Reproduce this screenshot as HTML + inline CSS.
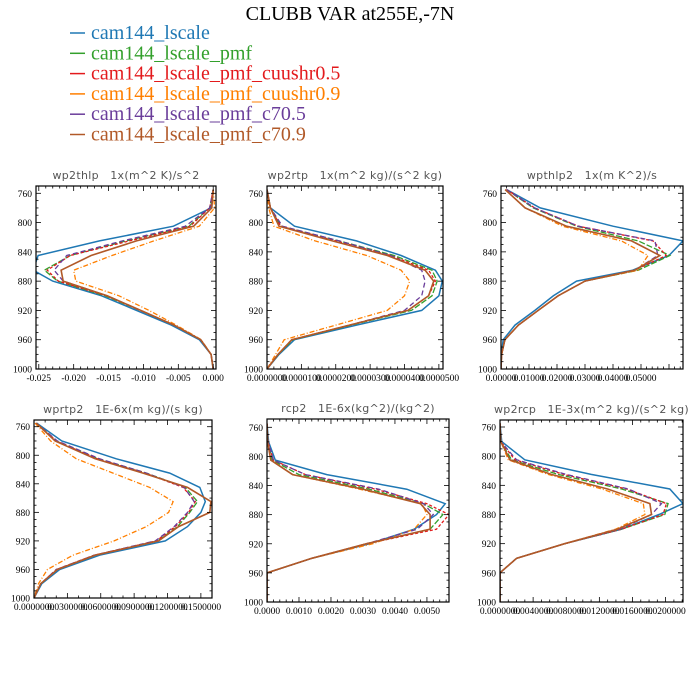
<!DOCTYPE html>
<html><head><meta charset="utf-8">
<style>
html,body{margin:0;padding:0;background:#fff;}
svg{display:block;}
.ttl{font-family:"Liberation Serif",serif;font-size:20px;fill:#000;}
.leg{font-family:"Liberation Serif",serif;font-size:20px;}
.pt{font-family:"DejaVu Sans","Liberation Sans",sans-serif;font-size:11px;fill:#555;white-space:pre;letter-spacing:0.3px;}
.tk{font-family:"Liberation Serif",serif;font-size:9.5px;fill:#000;}
</style></head>
<body>
<svg id="chart" width="700" height="700" viewBox="0 0 700 700" xmlns="http://www.w3.org/2000/svg">
<text class="ttl" x="350" y="20" text-anchor="middle">CLUBB VAR at255E,-7N</text>
<g id="legend"></g>
<g id="panels"></g>
</svg>
<script>
// Data (pressure levels in hPa)
const levels = [755,780,805,825,845,865,880,900,920,940,960,980,1000];
const seriesNames = ["cam144_lscale","cam144_lscale_pmf","cam144_lscale_pmf_cuushr0.5","cam144_lscale_pmf_cuushr0.9","cam144_lscale_pmf_c70.5","cam144_lscale_pmf_c70.9"];
const panelTitles = ["wp2thlp   1x(m^2 K)/s^2","wp2rtp   1x(m^2 kg)/(s^2 kg)","wpthlp2   1x(m K^2)/s","wprtp2   1E-6x(m kg)/(s kg)","rcp2   1E-6x(kg^2)/(kg^2)","wp2rcp   1E-3x(m^2 kg)/(s^2 kg)"];
const yTicks = [760,800,840,880,920,960,1000];

// wp2thlp
const wp2thlp_blue   = [0,-0.0003,-0.0057,-0.0163,-0.0251,-0.0258,-0.0230,-0.0160,-0.0110,-0.0060,-0.0020,-0.0003,0];
const wp2thlp_green  = [0,-0.0005,-0.0035,-0.0125,-0.0205,-0.0242,-0.0223,-0.0155,-0.0105,-0.0056,-0.0018,-0.0003,0];
const wp2thlp_red    = [0,-0.0005,-0.0033,-0.0120,-0.0205,-0.0238,-0.0222,-0.0153,-0.0104,-0.0056,-0.0018,-0.0003,0];
const wp2thlp_orange = [0,0.0002,-0.0020,-0.0085,-0.0145,-0.0200,-0.0197,-0.0135,-0.0092,-0.0053,-0.0017,-0.0003,0];
const wp2thlp_purple = [0,-0.0005,-0.0040,-0.0130,-0.0210,-0.0228,-0.0215,-0.0152,-0.0105,-0.0056,-0.0018,-0.0003,0];
const wp2thlp_brown  = [0,-0.0002,-0.0028,-0.0110,-0.0175,-0.0218,-0.0215,-0.0152,-0.0104,-0.0056,-0.0018,-0.0003,0];
const wp2thlp_ticks = [-0.025,-0.020,-0.015,-0.010,-0.005,0.000];
const wp2thlp_labels = ["-0.025","-0.020","-0.015","-0.010","-0.005","0.000"];

// wp2rtp
const wp2rtp_blue   = [0,0.000001,0.000008,0.000026,0.000039,0.000049,0.000051,0.000050,0.000045,0.000026,0.000008,0.0000035,0];
const wp2rtp_green  = [0,0.000001,0.000004,0.000021,0.000037,0.000048,0.0000495,0.000048,0.000042,0.0000245,0.0000075,0.0000033,0];
const wp2rtp_red    = [0,0.000001,0.000004,0.000020,0.000036,0.000047,0.000049,0.000047,0.000041,0.000024,0.0000072,0.0000032,0];
const wp2rtp_orange = [0,0.0000005,0.000002,0.000014,0.000029,0.000039,0.0000415,0.000040,0.000035,0.000020,0.000005,0.0000025,0];
const wp2rtp_purple = [0,0.000001,0.0000045,0.000021,0.000036,0.000045,0.000046,0.000045,0.000040,0.000024,0.0000072,0.0000032,0];
const wp2rtp_brown  = [0,0.000001,0.0000035,0.000019,0.000035,0.000046,0.0000485,0.000047,0.000041,0.000024,0.0000072,0.0000032,0];
const wp2rtp_ticks = [0,0.00001,0.00002,0.00003,0.00004,0.00005];
const wp2rtp_labels = ["0.0000000","0.0000100","0.0000200","0.0000300","0.0000400","0.0000500"];

// wpthlp2
const wpthlp2_blue   = [0.002,0.014,0.040,0.065,0.060,0.047,0.027,0.0187,0.0121,0.005,0.0008,0.0001,0];
const wpthlp2_green  = [0.002,0.0115,0.027,0.049,0.0603,0.049,0.030,0.0204,0.0133,0.0062,0.0014,0.0002,0];
const wpthlp2_red    = [0.002,0.012,0.0276,0.0543,0.059,0.0478,0.030,0.0204,0.0133,0.0062,0.0014,0.0002,0];
const wpthlp2_orange = [0.0015,0.0086,0.022,0.043,0.0525,0.049,0.030,0.0204,0.0133,0.0062,0.0014,0.0002,0];
const wpthlp2_purple = [0.002,0.012,0.0276,0.055,0.056,0.0478,0.030,0.0204,0.0133,0.0062,0.0014,0.0002,0];
const wpthlp2_brown  = [0.0015,0.0086,0.0234,0.0466,0.0567,0.0478,0.030,0.0204,0.0133,0.0062,0.0014,0.0002,0];
const wpthlp2_ticks = [0,0.01,0.02,0.03,0.04,0.05];
const wpthlp2_labels = ["0.00000","0.01000","0.02000","0.03000","0.04000","0.05000"];

// wprtp2
const wprtp2_blue   = [0.0024,0.025,0.074,0.122,0.149,0.154,0.150,0.138,0.118,0.059,0.023,0.007,0];
const wprtp2_green  = [0.002,0.020,0.058,0.101,0.136,0.147,0.140,0.129,0.111,0.055,0.021,0.006,0];
const wprtp2_red    = [0.002,0.020,0.057,0.100,0.134,0.145,0.139,0.127,0.110,0.054,0.020,0.006,0];
const wprtp2_orange = [0.001,0.015,0.038,0.071,0.104,0.125,0.121,0.101,0.072,0.035,0.012,0.004,0];
const wprtp2_purple = [0.002,0.021,0.059,0.101,0.135,0.144,0.138,0.126,0.109,0.054,0.020,0.006,0];
const wprtp2_brown  = [0.002,0.019,0.055,0.098,0.138,0.159,0.158,0.130,0.112,0.055,0.021,0.006,0];
const wprtp2_ticks = [0,0.03,0.06,0.09,0.12,0.15];
const wprtp2_labels = ["0.0000000","0.0300000","0.0600000","0.0900000","0.1200000","0.1500000"];

// rcp2
const rcp2_blue   = [0,0.00005,0.00026,0.00187,0.00437,0.00557,0.0053,0.0046,0.0032,0.0014,0,0,0];
const rcp2_green  = [0,0.00003,0.00016,0.0010,0.0032,0.0049,0.0055,0.0051,0.0031,0.0014,0,0,0];
const rcp2_red    = [0,0.00003,0.0002,0.0012,0.0034,0.0050,0.00569,0.0053,0.0031,0.0014,0,0,0];
const rcp2_orange = [0,0.00002,0.00012,0.0008,0.0029,0.00485,0.0050,0.0046,0.0033,0.0014,0,0,0];
const rcp2_purple = [0,0.00003,0.0002,0.0012,0.0035,0.0049,0.0052,0.0047,0.0031,0.0014,0,0,0];
const rcp2_brown  = [0,0.00002,0.00012,0.0008,0.0030,0.0048,0.0051,0.0051,0.0031,0.0014,0,0,0];
const rcp2_ticks = [0,0.001,0.002,0.003,0.004,0.005];
const rcp2_labels = ["0.0000","0.0010","0.0020","0.0030","0.0040","0.0050"];

// wp2rcp
const wp2rcp_blue   = [0,0.0002,0.0030,0.0110,0.0205,0.0221,0.0192,0.0147,0.0078,0.0020,0,0,0];
const wp2rcp_green  = [0,0.0001,0.0014,0.0070,0.0147,0.0203,0.0199,0.0147,0.0078,0.0020,0,0,0];
const wp2rcp_red    = [0,0.0001,0.0018,0.0077,0.0153,0.0201,0.0197,0.0147,0.0078,0.0020,0,0,0];
const wp2rcp_orange = [0,0.0001,0.0010,0.0058,0.0123,0.0173,0.0175,0.0140,0.0078,0.0020,0,0,0];
const wp2rcp_purple = [0,0.0001,0.0020,0.0080,0.0155,0.0195,0.0183,0.0145,0.0078,0.0020,0,0,0];
const wp2rcp_brown  = [0,0.0001,0.0012,0.0062,0.0130,0.0181,0.0183,0.0142,0.0078,0.0020,0,0,0];
const wp2rcp_ticks = [0,0.004,0.008,0.012,0.016,0.020];
const wp2rcp_labels = ["0.0000000","0.0040000","0.0080000","0.0120000","0.0160000","0.0200000"];

const colors = ["#1f78b4","#33a02c","#e31a1c","#ff7f00","#6a3d9a","#b15928"];
const dashes = ["","6,2","3,2","5,2,1,2","5,3",""];
const widths = [1.5,1.3,1.3,1.3,1.3,1.6];

const NS = "http://www.w3.org/2000/svg";
function mk(tag, attrs, parent){
  const e = document.createElementNS(NS, tag);
  for (const k in attrs) e.setAttribute(k, attrs[k]);
  parent.appendChild(e);
  return e;
}

// legend
const leg = document.getElementById("legend");
seriesNames.forEach((n,i)=>{
  const y = 33 + i*20.3;
  const ln = mk("line",{x1:70,x2:85,y1:y,y2:y,stroke:colors[i],"stroke-width":1.5},leg);
  
  
  const t = mk("text",{x:91,y:y+6,class:"leg",fill:colors[i]},leg);
  t.textContent = n;
  
  
});

const panelDefs = [
  {key:"wp2thlp-panel", L:36, R:216, T:186, B:369, xmin:-0.0254, xmax:0.0004, y760:193.3, y1000:369, ticks:wp2thlp_ticks, labels:wp2thlp_labels, minor:5,
   data:[wp2thlp_blue,wp2thlp_green,wp2thlp_red,wp2thlp_orange,wp2thlp_purple,wp2thlp_brown]},
  {key:"wp2rtp-panel", L:267, R:443, T:186, B:369, xmin:0, xmax:0.0000512, y760:193.3, y1000:369, ticks:wp2rtp_ticks, labels:wp2rtp_labels, minor:5,
   data:[wp2rtp_blue,wp2rtp_green,wp2rtp_red,wp2rtp_orange,wp2rtp_purple,wp2rtp_brown]},
  {key:"wpthlp2-panel", L:501, R:683, T:186, B:369, xmin:0, xmax:0.065, y760:193.3, y1000:369, ticks:wpthlp2_ticks, labels:wpthlp2_labels, minor:5,
   data:[wpthlp2_blue,wpthlp2_green,wpthlp2_red,wpthlp2_orange,wpthlp2_purple,wpthlp2_brown]},
  {key:"wprtp2-panel", L:34, R:212, T:420, B:598, xmin:0, xmax:0.16, y760:426.7, y1000:598, ticks:wprtp2_ticks, labels:wprtp2_labels, minor:3,
   data:[wprtp2_blue,wprtp2_green,wprtp2_red,wprtp2_orange,wprtp2_purple,wprtp2_brown]},
  {key:"rcp2-panel", L:267, R:449, T:419, B:602, xmin:0, xmax:0.00569, y760:427.3, y1000:602, ticks:rcp2_ticks, labels:rcp2_labels, minor:5,
   data:[rcp2_blue,rcp2_green,rcp2_red,rcp2_orange,rcp2_purple,rcp2_brown]},
  {key:"wp2rcp-panel", L:500, R:683, T:420, B:602, xmin:0, xmax:0.0221, y760:427, y1000:602, ticks:wp2rcp_ticks, labels:wp2rcp_labels, minor:4,
   data:[wp2rcp_blue,wp2rcp_green,wp2rcp_red,wp2rcp_orange,wp2rcp_purple,wp2rcp_brown]}
];

const panelsG = document.getElementById("panels");
panelDefs.forEach((p,pi)=>{
  const g = mk("g",{},panelsG);
  
  
  const xs = v => p.L + (v - p.xmin)/(p.xmax - p.xmin)*(p.R - p.L);
  const ys = v => p.y760 + (v - 760)/240*(p.y1000 - p.y760);
  const clipId = "clip"+pi;
  const cp = mk("clipPath",{id:clipId},g);
  mk("rect",{x:p.L,y:p.T,width:p.R-p.L,height:p.B-p.T},cp);

  // title
  const tt = mk("text",{x:(p.L+p.R)/2,y:p.T-7,class:"pt","text-anchor":"middle"},g);
  tt.setAttributeNS("http://www.w3.org/XML/1998/namespace","xml:space","preserve");
  tt.textContent = panelTitles[pi];
  
  

  // series
  const sg = mk("g",{"clip-path":"url(#"+clipId+")"},g);
  p.data.forEach((arr,si)=>{
    const pts = arr.map((v,k)=>xs(v).toFixed(1)+","+ys(levels[k]).toFixed(1)).join(" ");
    const pl = mk("polyline",{points:pts,fill:"none",stroke:colors[si],"stroke-width":widths[si],"stroke-dasharray":dashes[si]||"none","stroke-linejoin":"miter"},sg);
    
    
  });

  // frame
  const fr = mk("rect",{x:p.L,y:p.T,width:p.R-p.L,height:p.B-p.T,fill:"none",stroke:"#000","stroke-width":1.2},g);
  
  

  // y ticks
  const tg = mk("g",{stroke:"#000","stroke-width":0.8},g);
  for (let v=760; v<=1000; v+=10){
    const y = ys(v); const major = (v%40===0);
    const len = major?5:2.5;
    mk("line",{x1:p.L,x2:p.L+len,y1:y,y2:y},tg);
    mk("line",{x1:p.R,x2:p.R-len,y1:y,y2:y},tg);
  }
  yTicks.forEach(v=>{
    const t = mk("text",{x:p.L-4,y:ys(v)+3.5,class:"tk","text-anchor":"end"},g);
    t.textContent = String(v);
    
    
  });

  // x ticks
  const step = p.ticks[1]-p.ticks[0];
  const mstep = step/p.minor;
  for (let v=p.ticks[0]-step; v<=p.xmax+1e-12; v+=mstep){
    if (v < p.xmin-1e-12) continue;
    const x = xs(v);
    const k = Math.round((v-p.ticks[0])/mstep);
    const major = (k % p.minor === 0);
    const len = major?5:2.5;
    mk("line",{x1:x,x2:x,y1:p.B,y2:p.B-len},tg);
    mk("line",{x1:x,x2:x,y1:p.T,y2:p.T+len},tg);
  }
  p.ticks.forEach((v,k)=>{
    const t = mk("text",{x:xs(v),y:p.B+12,class:"tk","text-anchor":"middle"},g);
    t.textContent = p.labels[k];
    
    
  });
});
</script>
</body></html>
